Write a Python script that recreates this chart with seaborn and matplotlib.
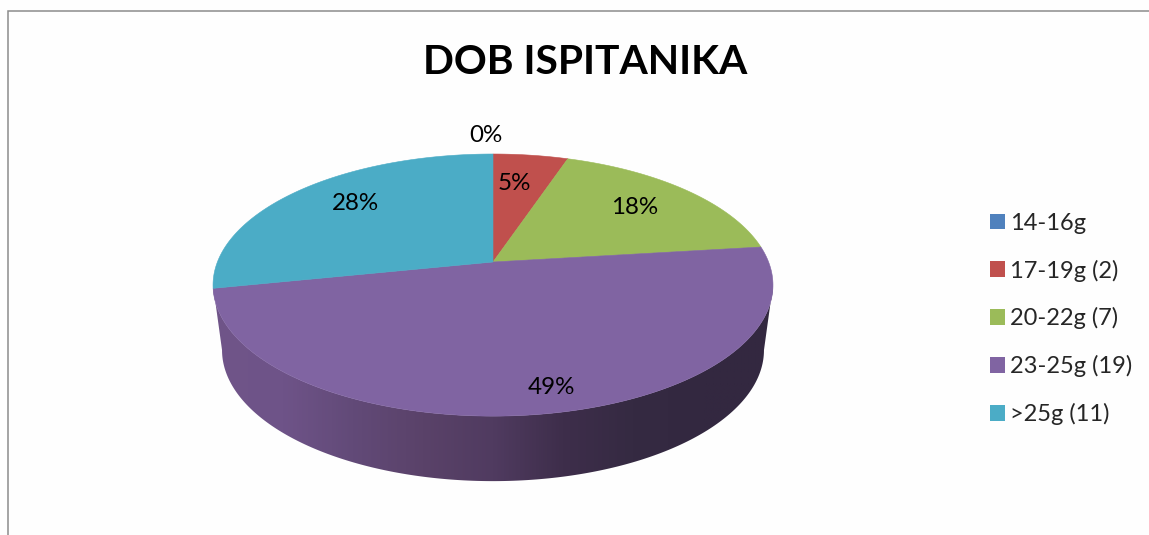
import numpy as np
import matplotlib
matplotlib.use('Agg')
import matplotlib.pyplot as plt
from matplotlib.colors import LinearSegmentedColormap
from matplotlib.patches import Patch, Polygon
import seaborn as sns

title = 'DOB ISPITANIKA'
legend_labels = ['14-16g', '17-19g (2)', '20-22g (7)', '23-25g (19)', '>25g (11)']
counts = [0, 2, 7, 19, 11]
slice_colors = ['#4F81BD', '#C0504D', '#9BBB59', '#8064A2', '#4BACC6']

# sredista postotaka na slici
label_x = [486, 514, 635, 551, 355]
label_y = [135, 184, 208, 387, 204]

# sjena na bocnoj stijenci, s lijeva na desno
wall_stops = ['#705589', '#6E5388', '#624A78', '#5A4269', '#503B60', '#3E2E4B', '#352A42', '#332840', '#332840']

sns.set_theme(style='white')
plt.rcParams['font.family'] = ['Lato', 'DejaVu Sans']
palette = sns.color_palette(slice_colors)

fig = plt.figure(figsize=(11.49, 5.35), dpi=100, facecolor='#fefefe')
ax = fig.add_axes([0, 0, 1, 1])
ax.set_facecolor('#fefefe')

# perspektiva: krug se preslikava u elipsu, vrh kolaca nije u sredini elipse
cx, cy = 493, 262
half_w, half_h = 275.6, 127
tilt = 0.176
depth = 65
bottom_scale = 271 / 280


def project(theta, shift=0, scale=1.0):
    u, v = np.sin(theta), np.cos(theta)
    d = 1 + tilt * v
    return cx + scale * half_w * u / d, cy + shift - half_h * v / d


# bocna stijenka
t0 = np.arccos(-tilt)
t = np.linspace(t0, 2 * np.pi - t0, 200)
x_top, y_top = project(t)
x_bot, y_bot = project(t[::-1], depth, bottom_scale)
wall = Polygon(np.column_stack([np.r_[x_top, x_bot], np.r_[y_top, y_bot]]), closed=True,
               facecolor='none', edgecolor='none', transform=ax.transData)
ax.add_patch(wall)
cmap = LinearSegmentedColormap.from_list('wall', wall_stops)
grad = np.linspace(0, 1, 400).reshape(1, -1)
im = ax.imshow(grad, cmap=cmap, extent=[213, 773, 490, 280], aspect='auto', zorder=1)
im.set_clip_path(wall)

# gornja ploha
fractions = np.array(counts) / sum(counts)
edges = np.r_[0, np.cumsum(fractions)] * 2 * np.pi
for i, col in enumerate(palette):
    if counts[i] == 0:
        continue
    a = np.linspace(edges[i], edges[i + 1], 200)
    xs, ys = project(a)
    ax.fill(np.r_[cx, xs], np.r_[cy, ys], color=col, lw=0.4, zorder=2)

for i in range(len(counts)):
    ax.text(label_x[i], label_y[i], f'{fractions[i] * 100:.0f}%', ha='center', va='center',
            fontsize=17.4, color='black', zorder=3)

ax.text(585.5, 62, title, ha='center', va='center', fontsize=29.3, fontweight='bold', color='black')

# okvir grafikona: vidljivi samo lijevi i gornji rub
ax.plot([8, 8, 1149], [535, 11, 11], color='#8c8c8c', lw=1.1, solid_joinstyle='miter')

handles = [Patch(facecolor=c, edgecolor='none', label=l) for c, l in zip(palette, legend_labels)]
ax.legend(handles=handles, loc='upper left', bbox_to_anchor=(985, 208), bbox_transform=ax.transData,
          frameon=False, fontsize=17, handlelength=0.64, handleheight=0.64, handletextpad=0.2,
          labelspacing=1.09, borderpad=0.2, borderaxespad=0)

ax.set_xlim(0, 1149)
ax.set_ylim(535, 0)
ax.axis('off')

fig.savefig('out.png', dpi=100, facecolor=fig.get_facecolor())
